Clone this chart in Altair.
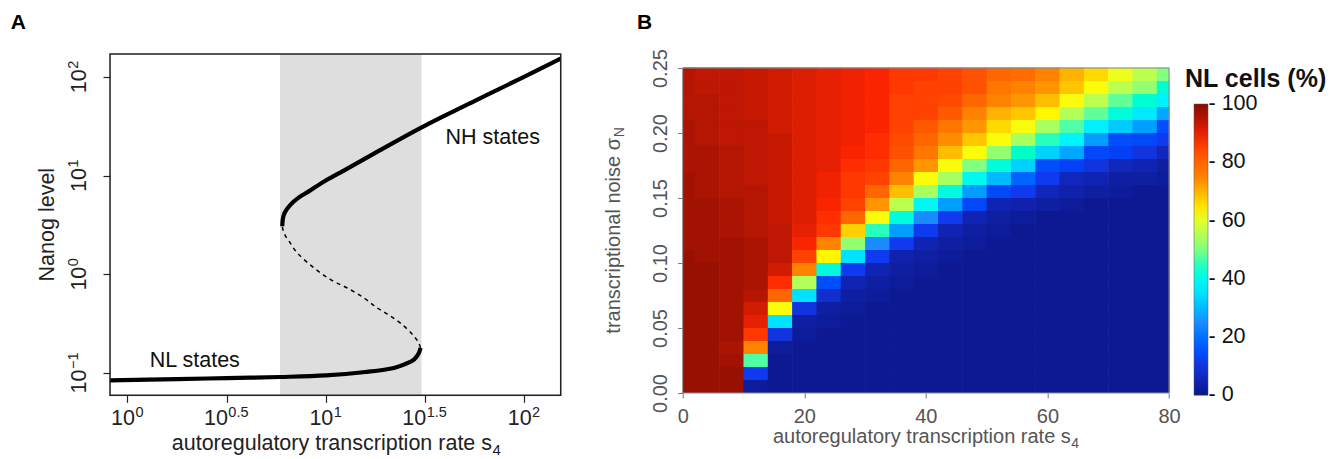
import altair as alt
import pandas as pd

FONT = "Liberation Sans"

# ---------------- Panel A : bifurcation diagram ----------------
band_s4 = [5.88, 30.4]          # bistable region (grey band)

low_s4 = [0.817, 1.778, 3.162, 5.875, 10.0, 15.85, 22.08, 25.12, 27.86, 29.51, 30.06]
low_nanog = [0.0843, 0.0867, 0.0887, 0.0910, 0.0944, 0.1023, 0.1125, 0.1230, 0.1368, 0.1596, 0.1795]

mid_s4 = [30.06, 29.38, 27.54, 23.99, 20.89, 18.2, 15.6, 12.85, 10.59, 8.73, 7.19, 6.53, 6.28,
          6.11, 6.04]
mid_nanog = [0.1795, 0.2042, 0.2427, 0.3162, 0.3846, 0.456, 0.5754, 0.7261, 0.883, 1.159, 1.644,
             2.168, 2.427, 2.754, 3.062]

up_s4 = [6.04, 6.15, 6.65, 7.33, 8.22, 10.0, 12.59, 17.78, 30.48, 56.23, 100.0, 153.1]
up_nanog = [3.062, 4.018, 5.07, 6.01, 6.92, 8.91, 11.48, 16.98, 30.83, 56.89, 100.0, 153.1]

x_ticks_int = [1, 10, 100]
x_exp_int = ["0", "1", "2"]
x_ticks_half = [3.1623, 31.623]
x_exp_half = ["0.5", "1.5"]
y_ticks_pos = [1, 10, 100]
y_exp_pos = ["0", "1", "2"]
y_ticks_neg = [0.1]
y_exp_neg = ["\u22121"]

# ---------------- Panel B : heatmap ----------------
s4_values = [0, 4, 8, 12, 16, 20, 24, 28, 32, 36, 40, 44, 48, 52, 56, 60, 64, 68, 72, 76, 80]
sigma_values = [0.00, 0.01, 0.02, 0.03, 0.04, 0.05, 0.06, 0.07, 0.08, 0.09, 0.10, 0.11, 0.12,
                0.13, 0.14, 0.15, 0.16, 0.17, 0.18, 0.19, 0.20, 0.21, 0.22, 0.23, 0.24]
# NL cells (%) : one list per s4 column, from sigma = 0.00 (bottom) to 0.24 (top)
nl_s4_00 = [98,98,98,98,98,98,98,98,98,98,98,97,97,97,97,97,97,96,96,96,96,95,95,95,95]
nl_s4_04 = [98,98,98,98,98,98,98,98,98,98,97,97,97,97,97,96,96,96,96,95,95,95,95,94,94]
nl_s4_08 = [98,98,97,96,97,97,97,97,97,97,97,97,96,96,96,95,95,95,95,94,94,94,94,94,94]
nl_s4_12 = [2,12,47,75,86,90,92,95,96,96,96,96,95,95,95,95,94,94,94,94,94,93,93,93,93]
nl_s4_16 = [1,1,1,2,10,35,62,80,87,92,94,94,94,93,93,93,93,93,93,93,92,92,92,92,92]
nl_s4_20 = [1,1,1,1,2,3,10,35,55,75,85,88,90,91,91,91,91,91,91,91,91,91,91,91,91]
nl_s4_24 = [1,1,1,1,1,2,3,8,15,42,63,75,86,87,88,89,89,90,90,90,90,90,90,90,90]
nl_s4_28 = [1,1,1,1,1,1,2,3,5,12,35,52,67,80,85,86,86,87,88,89,89,89,89,89,89]
nl_s4_32 = [1,1,1,1,1,1,1,2,3,5,12,25,45,62,73,80,85,86,87,87,88,88,88,88,88]
nl_s4_36 = [1,1,1,1,1,1,1,1,2,3,4,12,27,42,56,69,75,80,83,84,85,85,85,86,86]
nl_s4_40 = [1,1,1,1,1,1,1,1,1,2,3,5,12,25,39,54,62,73,77,80,82,85,85,85,86]
nl_s4_44 = [1,1,1,1,1,1,1,1,1,1,2,3,5,12,27,42,54,62,69,74,77,82,84,85,85]
nl_s4_48 = [1,1,1,1,1,1,1,1,1,1,1,2,3,5,14,27,40,50,62,68,73,75,80,83,83]
nl_s4_52 = [1,1,1,1,1,1,1,1,1,1,1,1,2,3,5,14,30,42,52,62,66,70,75,77,80]
nl_s4_56 = [1,1,1,1,1,1,1,1,1,1,1,1,1,2,4,12,18,33,44,54,62,68,73,75,79]
nl_s4_60 = [1,1,1,1,1,1,1,1,1,1,1,1,1,1,3,6,12,15,33,45,54,63,69,73,75]
nl_s4_64 = [1,1,1,1,1,1,1,1,1,1,1,1,1,1,2,4,6,13,28,38,47,55,62,68,70]
nl_s4_68 = [1,1,1,1,1,1,1,1,1,1,1,1,1,1,1,3,5,10,14,27,37,48,56,62,66]
nl_s4_72 = [1,1,1,1,1,1,1,1,1,1,1,1,1,1,1,2,3,6,13,15,32,42,48,56,61]
nl_s4_76 = [1,1,1,1,1,1,1,1,1,1,1,1,1,1,1,1,3,5,10,14,27,36,43,52,56]
nl_s4_80 = [1,1,1,1,1,1,1,1,1,1,1,1,1,1,1,1,2,3,6,12,15,28,37,43,50]
nl_columns = [nl_s4_00, nl_s4_04, nl_s4_08, nl_s4_12, nl_s4_16, nl_s4_20, nl_s4_24,
              nl_s4_28, nl_s4_32, nl_s4_36, nl_s4_40, nl_s4_44, nl_s4_48, nl_s4_52,
              nl_s4_56, nl_s4_60, nl_s4_64, nl_s4_68, nl_s4_72, nl_s4_76, nl_s4_80]

jet_stops = [0, 12.5, 25, 37.5, 50, 62.5, 75, 87.5, 100]
jet_colors = ["#0a168a", "#0f3cf5", "#1a8cff", "#10f4ff", "#80ff80",
              "#fffb00", "#ff8200", "#ff2600", "#860c00"]
legend_values = [0.01, 20, 40, 60, 80, 99.99]
b_x_ticks = [0, 20, 40, 60, 80]
b_y_ticks = [0.0, 0.05, 0.10, 0.15, 0.20, 0.25]

# =========================== Panel A ===========================
W_A, H_A = 450.7, 341.3
xs = alt.Scale(type="log", domain=[0.817, 153.1], nice=False)
ys = alt.Scale(type="log", domain=[0.0594, 170.6], nice=False)
ax_x = alt.Axis(values=[1, 3.1623, 10, 31.623, 100], labels=False, ticks=True, tickSize=7,
                tickColor="#222", tickWidth=1.2, domain=False, grid=False, title=None)
ax_y = alt.Axis(values=[0.1, 1, 10, 100], labels=False, ticks=True, tickSize=7,
                tickColor="#222", tickWidth=1.2, domain=False, grid=False, title=None)
XA = alt.X("s4:Q", scale=xs, axis=ax_x)
YA = alt.Y("nanog:Q", scale=ys, axis=ax_y)

one = pd.DataFrame({"k": [0]})

band = alt.Chart(pd.DataFrame({"s4": [band_s4[0]], "s4b": [band_s4[1]]})).mark_rect(
    color="#dedede").encode(x=XA, x2="s4b:Q", y=alt.value(0), y2=alt.value(H_A))


def branch(xv, yv):
    return pd.DataFrame({"s4": xv, "nanog": yv, "o": list(range(len(xv)))})


low = alt.Chart(branch(low_s4, low_nanog)).mark_line(
    color="black", strokeWidth=4.2, interpolate="catmull-rom", clip=True, strokeCap="butt"
).encode(x=XA, y=YA, order="o:Q")
mid = alt.Chart(branch(mid_s4, mid_nanog)).mark_line(
    color="black", strokeWidth=1.5, strokeDash=[4, 4], interpolate="catmull-rom", clip=True
).encode(x=XA, y=YA, order="o:Q")
up = alt.Chart(branch(up_s4, up_nanog)).mark_line(
    color="black", strokeWidth=4.2, interpolate="catmull-rom", clip=True, strokeCap="butt"
).encode(x=XA, y=YA, order="o:Q")

frame = alt.Chart(one).mark_rect(fillOpacity=0, stroke="#222", strokeWidth=1.5).encode(
    x=alt.value(0), x2=alt.value(W_A), y=alt.value(0), y2=alt.value(H_A))

BASE_FS, EXP_FS = 21.5, 14.5
lab_layers = []
for vals, exps, dx in [(x_ticks_int, x_exp_int, 7.6), (x_ticks_half, x_exp_half, 1.3)]:
    df = pd.DataFrame({"s4": vals, "e": exps})
    lab_layers.append(alt.Chart(df).mark_text(text="10", align="right", baseline="alphabetic",
                      fontSize=BASE_FS, dx=dx, color="#222").encode(x=XA, y=alt.value(H_A + 29.3)))
    lab_layers.append(alt.Chart(df).mark_text(align="left", baseline="alphabetic",
                      fontSize=EXP_FS, dx=dx + 0.5, dy=-8, color="#222").encode(
                      x=XA, y=alt.value(H_A + 29.3), text="e:N"))
for vals, exps, dx in [(y_ticks_pos, y_exp_pos, 7.6), (y_ticks_neg, y_exp_neg, 3.4)]:
    df = pd.DataFrame({"nanog": vals, "e": exps})
    lab_layers.append(alt.Chart(df).mark_text(text="10", align="right", baseline="alphabetic",
                      fontSize=BASE_FS, dx=dx, angle=270, color="#222").encode(
                      y=YA, x=alt.value(-24.3)))
    lab_layers.append(alt.Chart(df).mark_text(align="left", baseline="alphabetic",
                      fontSize=EXP_FS, dx=dx + 0.5, dy=-8, angle=270, color="#222").encode(
                      y=YA, x=alt.value(-24.3), text="e:N"))

TFS = 21.5
a_ytitle = alt.Chart(one).mark_text(text="Nanog level", angle=270, align="center",
                                    baseline="alphabetic", fontSize=TFS, color="#222").encode(
    x=alt.value(-56.3), y=alt.value(H_A / 2))
a_xtitle = alt.Chart(one).mark_text(text="autoregulatory transcription rate s", align="right",
                                    baseline="alphabetic", fontSize=TFS, color="#222").encode(
    x=alt.value(W_A / 2 + 156.7), y=alt.value(H_A + 54.5))
a_xsub = alt.Chart(one).mark_text(text="4", align="left", baseline="alphabetic",
                                  fontSize=15, dy=5, color="#222").encode(
    x=alt.value(W_A / 2 + 157.2), y=alt.value(H_A + 54.5))

states = pd.DataFrame({"s4": [69.5, 2.188], "nanog": [20.9, 0.1143],
                       "label": ["NH states", "NL states"]})
state_txt = alt.Chart(states).mark_text(align="center", baseline="alphabetic", fontSize=21.5,
                                        color="#111").encode(x=XA, y=YA, text="label:N")

a_lab = alt.Chart(one).mark_text(text="A", align="left", baseline="alphabetic", fontSize=21,
                                 fontWeight="bold", color="black").encode(
    x=alt.value(-99.3), y=alt.value(-24.7))

panel_a = alt.layer(band, low, mid, up, frame, *lab_layers, a_ytitle, a_xtitle, a_xsub,
                    state_txt, a_lab).properties(width=W_A, height=H_A)

# =========================== Panel B ===========================
W_B, H_B = 486.3, 339
rows = []
for s, col in zip(s4_values, nl_columns):
    for sig, v in zip(sigma_values, col):
        rows.append({"x0": max(0, s - 2), "x1": min(80, s + 2),
                     "y0": sig, "y1": round(sig + 0.01, 3), "v": v})
heat_df = pd.DataFrame(rows)

bx = alt.Scale(domain=[0, 80], nice=False, zero=False)
by = alt.Scale(domain=[0, 0.2608], nice=False, zero=False)
cscale = alt.Scale(type="linear", domain=jet_stops, range=jet_colors)
GRAY = "#555555"

heat = alt.Chart(heat_df).mark_rect(x2Offset=0.6, y2Offset=-0.6).encode(
    x=alt.X("x0:Q", scale=bx, axis=alt.Axis(values=b_x_ticks, tickSize=5, tickColor="#777",
            labelFontSize=20, labelColor=GRAY, labelPadding=8, labelFlush=False,
            domain=False, grid=False, title=None)),
    x2="x1:Q",
    y=alt.Y("y0:Q", scale=by, axis=alt.Axis(values=b_y_ticks, format=".2f", tickSize=5,
            tickColor="#777", labelFontSize=20, labelColor=GRAY, labelAngle=270,
            labelAlign="center", labelBaseline="alphabetic", labelPadding=11.5,
            labelFlush=False, domain=False, grid=False, title=None)),
    y2="y1:Q",
    color=alt.Color("v:Q", scale=cscale, legend=alt.Legend(
        type="gradient", orient="none", legendX=511.3, legendY=50, title=None,
        direction="vertical", gradientLength=291.3, gradientThickness=14,
        values=legend_values, format="d", labelExpr="'- ' + datum.label",
        labelFontSize=21.5, labelColor="#111", labelOffset=0.5,
        gradientStrokeColor="#555", gradientStrokeWidth=0.5)),
)

box = alt.Chart(pd.DataFrame({"x0": [0], "x1": [80], "y0": [0.0], "y1": [0.25]})).mark_rect(
    fillOpacity=0, stroke="#8a8a8a", strokeWidth=1).encode(
    x=alt.X("x0:Q", scale=bx), x2="x1:Q", y=alt.Y("y0:Q", scale=by), y2="y1:Q")

BFS = 20
b_ytitle = alt.Chart(one).mark_text(text="transcriptional noise \u03c3", angle=270, align="right",
                                    baseline="alphabetic", fontSize=BFS, dx=92.6,
                                    color=GRAY).encode(x=alt.value(-63), y=alt.value(176.5))
b_ysub = alt.Chart(one).mark_text(text="N", angle=270, align="left", baseline="alphabetic",
                                  fontSize=14, dx=93.2, dy=4.5, color=GRAY).encode(
    x=alt.value(-63), y=alt.value(176.5))
b_xtitle = alt.Chart(one).mark_text(text="autoregulatory transcription rate s", align="right",
                                    baseline="alphabetic", fontSize=BFS, color=GRAY).encode(
    x=alt.value(243.15 + 145), y=alt.value(H_B + 50))
b_xsub = alt.Chart(one).mark_text(text="4", align="left", baseline="alphabetic", fontSize=14,
                                  dy=5, color=GRAY).encode(
    x=alt.value(243.15 + 145.5), y=alt.value(H_B + 50))
leg_title = alt.Chart(one).mark_text(text="NL cells (%)", align="left", baseline="alphabetic",
                                     fontSize=25, fontWeight="bold", color="#111").encode(
    x=alt.value(502.3), y=alt.value(33.0))
b_lab = alt.Chart(one).mark_text(text="B", align="left", baseline="alphabetic", fontSize=21,
                                 fontWeight="bold", color="black").encode(
    x=alt.value(-45.7), y=alt.value(-24.7))

panel_b = alt.layer(heat, box, b_ytitle, b_ysub, b_xtitle, b_xsub, leg_title,
                    b_lab).properties(width=W_B, height=H_B,
                                      view=alt.ViewBackground(stroke="transparent"))

chart = alt.hconcat(panel_a, panel_b, spacing=121.7, bounds="flush").resolve_scale(
    color="independent").resolve_legend(color="independent").properties(
    padding={"left": 2, "top": 3, "right": 0, "bottom": 0}
).configure_view(stroke="transparent").configure(font=FONT).configure_text(
    font=FONT).configure_axis(labelFont=FONT).configure_legend(labelFont=FONT)

chart.save("out.html", embed_options={"renderer": "svg", "actions": False})
